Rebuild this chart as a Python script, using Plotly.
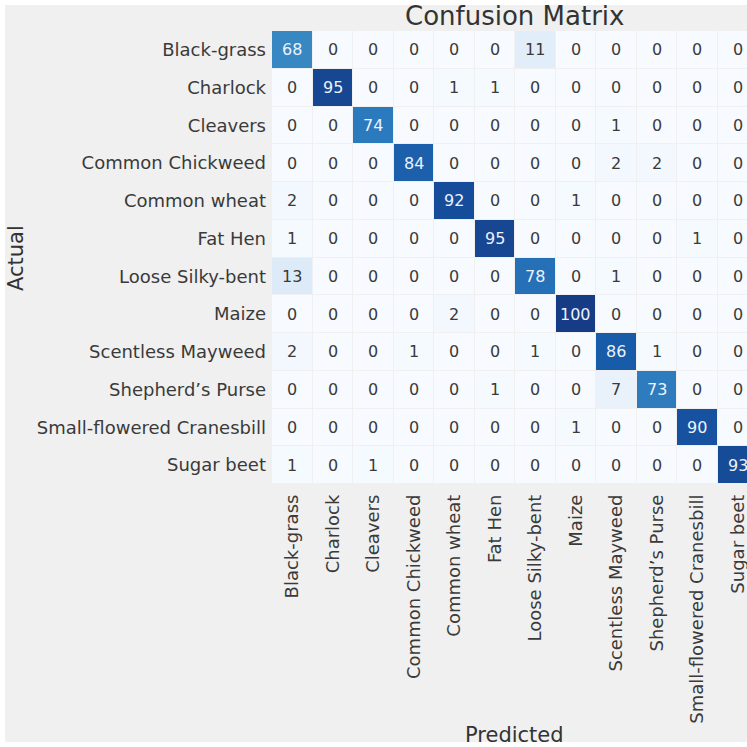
import plotly.graph_objects as go

# Plant seedling classes (rows = actual, columns = predicted)
classes = [
    "Black-grass", "Charlock", "Cleavers", "Common Chickweed", "Common wheat",
    "Fat Hen", "Loose Silky-bent", "Maize", "Scentless Mayweed",
    "Shepherd\u2019s Purse", "Small-flowered Cranesbill", "Sugar beet",
]

row_black_grass = [68, 0, 0, 0, 0, 0, 11, 0, 0, 0, 0, 0]
row_charlock = [0, 95, 0, 0, 1, 1, 0, 0, 0, 0, 0, 0]
row_cleavers = [0, 0, 74, 0, 0, 0, 0, 0, 1, 0, 0, 0]
row_chickweed = [0, 0, 0, 84, 0, 0, 0, 0, 2, 2, 0, 0]
row_wheat = [2, 0, 0, 0, 92, 0, 0, 1, 0, 0, 0, 0]
row_fat_hen = [1, 0, 0, 0, 0, 95, 0, 0, 0, 0, 1, 0]
row_silky_bent = [13, 0, 0, 0, 0, 0, 78, 0, 1, 0, 0, 0]
row_maize = [0, 0, 0, 0, 2, 0, 0, 100, 0, 0, 0, 0]
row_mayweed = [2, 0, 0, 1, 0, 0, 1, 0, 86, 1, 0, 0]
row_purse = [0, 0, 0, 0, 0, 1, 0, 0, 7, 73, 0, 0]
row_cranesbill = [0, 0, 0, 0, 0, 0, 0, 1, 0, 0, 90, 0]
row_sugar_beet = [1, 0, 1, 0, 0, 0, 0, 0, 0, 0, 0, 93]

matrix = [
    row_black_grass, row_charlock, row_cleavers, row_chickweed, row_wheat,
    row_fat_hen, row_silky_bent, row_maize, row_mayweed, row_purse,
    row_cranesbill, row_sugar_beet,
]

W, H = 747, 747
FONT = "DejaVu Sans"
TXT = "#3a3a3a"

# Blues-like colour ramp
blues = [
    [0.0, "#f7fbff"], [0.125, "#deebf7"], [0.25, "#c6dbef"],
    [0.375, "#9ecae1"], [0.5, "#6baed6"], [0.625, "#4292c6"],
    [0.75, "#2a78bd"], [0.875, "#1657a5"], [1.0, "#173c86"],
]

idx = list(range(len(classes)))

fig = go.Figure(
    go.Heatmap(
        z=matrix, x=idx, y=idx, colorscale=blues, zmin=0, zmax=100,
        showscale=False, xgap=1, ygap=1, hoverinfo="skip",
    )
)

zmax = max(max(r) for r in matrix)
annotations = []
for i, row in enumerate(matrix):
    for j, v in enumerate(row):
        annotations.append(dict(
            x=j, y=i, xref="x", yref="y", text=str(v), showarrow=False,
            font=dict(family=FONT, size=16,
                      color="#edf2fa" if v > zmax / 2 else TXT),
        ))

# Plot area geometry (pixels)
left, top, bottom = 272, 31, 484
cell_w = 40.5
x_hi = -0.5 + (W - left) / cell_w
plot_w = W - left

def px_to_paper_x(px):
    return (px - left) / plot_w

def px_to_paper_y(py):
    return (bottom - py) / (bottom - top)

annotations += [
    dict(text="Confusion Matrix", x=px_to_paper_x(514), y=px_to_paper_y(16),
         xref="paper", yref="paper", showarrow=False,
         xanchor="center", yanchor="middle",
         font=dict(family=FONT, size=26, color="#333333")),
    dict(text="Predicted", x=px_to_paper_x(514), y=px_to_paper_y(735),
         xref="paper", yref="paper", showarrow=False,
         xanchor="center", yanchor="middle",
         font=dict(family=FONT, size=21, color="#333333")),
    dict(text="Actual", x=px_to_paper_x(16), y=px_to_paper_y(258),
         xref="paper", yref="paper", showarrow=False, textangle=-90,
         xanchor="center", yanchor="middle",
         font=dict(family=FONT, size=21, color="#333333")),
]

# Light grey canvas with a thin white frame
shapes = [dict(
    type="rect", xref="paper", yref="paper", layer="below",
    x0=px_to_paper_x(5), x1=px_to_paper_x(760),
    y0=px_to_paper_y(742), y1=px_to_paper_y(5),
    fillcolor="#f0f0f0", line=dict(width=0),
)]

fig.update_layout(
    width=W, height=H,
    margin=dict(l=left, r=0, t=top, b=H - bottom, pad=0),
    paper_bgcolor="white", plot_bgcolor="white",
    font=dict(family=FONT, color=TXT),
    annotations=annotations, shapes=shapes,
    xaxis=dict(
        range=[-0.5, x_hi], tickmode="array", tickvals=idx, ticktext=classes,
        tickangle=-90, tickfont=dict(size=18, color=TXT), ticks="",
        showgrid=False, zeroline=False, showline=False, fixedrange=True,
        ticklabelstandoff=6, ticklabeloverflow="allow",
    ),
    yaxis=dict(
        range=[11.5, -0.5], tickmode="array", tickvals=idx, ticktext=classes,
        tickfont=dict(size=18, color=TXT), ticks="",
        showgrid=False, zeroline=False, showline=False, fixedrange=True,
        ticklabelstandoff=5,
    ),
)

fig.write_html("out.html", config={"displayModeBar": False})
